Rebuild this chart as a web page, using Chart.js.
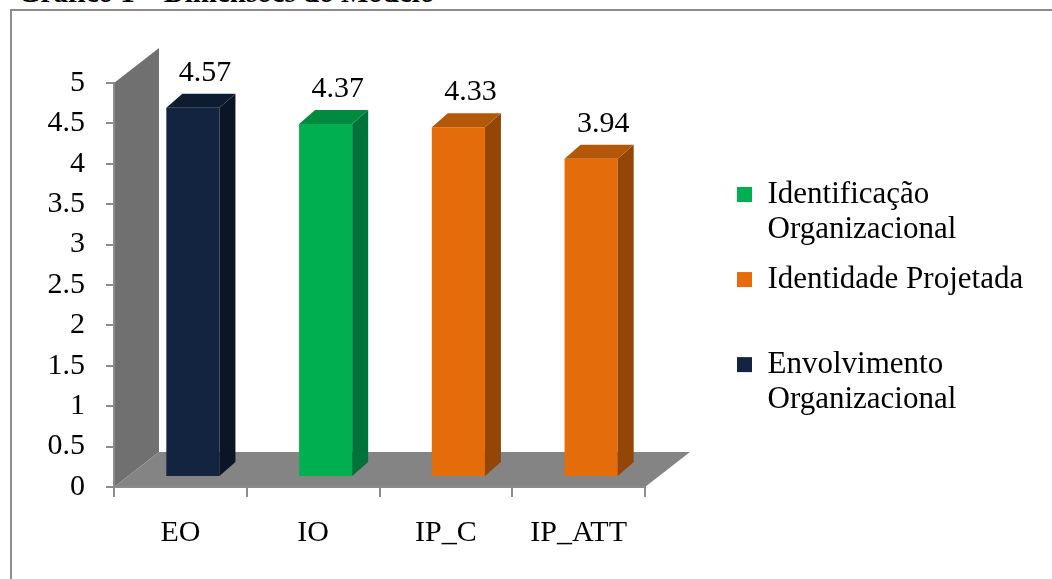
<!DOCTYPE html>
<html>
<head>
<meta charset="utf-8">
<script src="https://cdn.jsdelivr.net/npm/chart.js@4/dist/chart.umd.min.js"></script>
<style>
  html, body { margin: 0; padding: 0; background: #fff; overflow: hidden; }
  #caption {
    position: absolute; left: 18px; top: -22px;
    font: bold 29px/29px "Liberation Serif", "Times New Roman", serif;
    color: #000; white-space: nowrap;
  }
  #frame {
    position: absolute; left: 10px; top: 9px; width: 1200px; height: 700px;
    border-left: 2px solid #8c8c8c; border-top: 2px solid #8c8c8c;
  }
  #wrap { position: absolute; left: 0; top: 0; width: 1052px; height: 579px; }
</style>
</head>
<body>
<div id="caption">Gráfico 1 – Dimensões do Modelo</div>
<div id="frame"></div>
<div id="wrap"><canvas id="chart"></canvas></div>
<script>
// Categories and series
const categories = ['EO', 'IO', 'IP_C', 'IP_ATT'];
const identificacaoValues = [null, 4.37, null, null];
const identidadeValues = [null, null, 4.33, 3.94];
const envolvimentoValues = [4.57, null, null, null];
const seriesLabels = ['Identificação Organizacional', 'Identidade Projetada', 'Envolvimento Organizacional'];
const legendLines = [['Identificação', 'Organizacional'], ['Identidade Projetada', ''], ['Envolvimento', 'Organizacional']];
const yTickValues = [0, 0.5, 1, 1.5, 2, 2.5, 3, 3.5, 4, 4.5, 5];
const yTickLabels = ['0', '0.5', '1', '1.5', '2', '2.5', '3', '3.5', '4', '4.5', '5'];

const FONT = '"Liberation Serif", "Times New Roman", serif';
const AXIS_COLOR = '#8c8c8c';

// Face colours of each series' boxes: front, top, side
const faces = [
  { front: '#00B050', top: '#008B3E', side: '#00733A' },
  { front: '#E46C0A', top: '#B35709', side: '#934606' },
  { front: '#12243F', top: '#0E1C31', side: '#0A1626' }
];

// Depth of the back wall / floor and of the boxes
const WALL_DX = 45, WALL_DY = -35;
const BAR_SHIFT_X = 12.5, BAR_SHIFT_Y = -10;
const BAR_DX = 16, BAR_DY = -14;

function poly(ctx, pts, color) {
  ctx.fillStyle = color;
  ctx.beginPath();
  ctx.moveTo(pts[0][0], pts[0][1]);
  for (let i = 1; i < pts.length; i++) ctx.lineTo(pts[i][0], pts[i][1]);
  ctx.closePath();
  ctx.fill();
}

const box3d = {
  id: 'box3d',
  beforeDraw(chart) {
    const { ctx, chartArea: a } = chart;
    ctx.save();
    // back wall behind the value axis
    poly(ctx, [[a.left, a.top], [a.left + WALL_DX, a.top + WALL_DY],
               [a.left + WALL_DX, a.bottom + WALL_DY], [a.left, a.bottom]], '#707070');
    // floor
    poly(ctx, [[a.left, a.bottom], [a.right, a.bottom],
               [a.right + WALL_DX, a.bottom + WALL_DY], [a.left + WALL_DX, a.bottom + WALL_DY]], '#848484');
    ctx.restore();
  },
  beforeDatasetDraw(chart) {
    chart.ctx.save();
    chart.ctx.translate(BAR_SHIFT_X, BAR_SHIFT_Y);
  },
  afterDatasetDraw(chart, args) {
    const ctx = chart.ctx;
    const f = faces[args.index];
    const data = chart.data.datasets[args.index].data;
    args.meta.data.forEach((el, i) => {
      if (data[i] == null) return;
      const { x, y, base, width } = el.getProps(['x', 'y', 'base', 'width'], true);
      const x0 = x - width / 2, x1 = x + width / 2;
      poly(ctx, [[x1, y], [x1 + BAR_DX, y + BAR_DY], [x1 + BAR_DX, base + BAR_DY], [x1, base]], f.side);
      poly(ctx, [[x0, y], [x0 + BAR_DX, y + BAR_DY], [x1 + BAR_DX, y + BAR_DY], [x1, y]], f.top);
    });
    ctx.restore();
  },
  afterDatasetsDraw(chart) {
    const ctx = chart.ctx;
    ctx.save();
    ctx.font = '30px ' + FONT;
    ctx.fillStyle = '#000';
    ctx.textAlign = 'center';
    ctx.textBaseline = 'alphabetic';
    chart.data.datasets.forEach((ds, di) => {
      chart.getDatasetMeta(di).data.forEach((el, i) => {
        const v = ds.data[i];
        if (v == null) return;
        ctx.fillText(v.toFixed(2), el.x + BAR_SHIFT_X + 12, el.y + BAR_SHIFT_Y + BAR_DY - 13);
      });
    });
    ctx.restore();
  }
};

// Places the legend column to the right of the floor
const legendPlacer = {
  id: 'legendPlacer',
  afterLayout(chart) {
    const lg = chart.legend;
    lg.left = 722;
    lg.top = 164;
    lg.right = chart.width;
    lg.bottom = chart.height;
  }
};

new Chart(document.getElementById('chart'), {
  type: 'bar',
  data: {
    labels: categories,
    datasets: [
      { label: seriesLabels[0], data: identificacaoValues, backgroundColor: faces[0].front },
      { label: seriesLabels[1], data: identidadeValues, backgroundColor: faces[1].front },
      { label: seriesLabels[2], data: envolvimentoValues, backgroundColor: faces[2].front }
    ]
  },
  options: {
    responsive: true,
    maintainAspectRatio: false,
    animation: false,
    events: [],
    layout: { padding: { top: 83, right: 407, bottom: 0, left: 0 } },
    datasets: { bar: { barPercentage: 0.4, categoryPercentage: 1, borderWidth: 0 } },
    scales: {
      x: {
        stacked: true,
        offset: true,
        grid: { offset: true, drawOnChartArea: false, drawTicks: true, tickLength: 10, color: AXIS_COLOR, lineWidth: 2 },
        border: { display: true, color: AXIS_COLOR, width: 2 },
        ticks: { font: { family: FONT, size: 30 }, color: '#000', padding: 18, maxRotation: 0, autoSkip: false },
        afterFit(s) { s.height = 92; }
      },
      y: {
        stacked: true,
        min: 0,
        max: 5,
        afterBuildTicks(s) { s.ticks = yTickValues.map(v => ({ value: v })); },
        ticks: {
          callback: (v) => yTickLabels[yTickValues.indexOf(v)],
          font: { family: FONT, size: 30 }, color: '#000', padding: 21
        },
        grid: { drawOnChartArea: false, drawTicks: true, tickLength: 8, color: AXIS_COLOR, lineWidth: 2 },
        border: { display: true, color: AXIS_COLOR, width: 2 },
        afterFit(s) { s.width = 114; }
      }
    },
    plugins: {
      legend: {
        position: 'chartArea',
        align: 'start',
        labels: {
          boxWidth: 15,
          boxHeight: 15,
          padding: 15,
          color: '#000',
          font: { family: FONT, size: 31, lineHeight: 1.13 },
          generateLabels(chart) {
            const items = Chart.defaults.plugins.legend.labels.generateLabels(chart);
            return items.map((it, i) => Object.assign(it, { text: legendLines[i] }));
          }
        }
      },
      tooltip: { enabled: false }
    }
  },
  plugins: [box3d, legendPlacer]
});
</script>
</body>
</html>
